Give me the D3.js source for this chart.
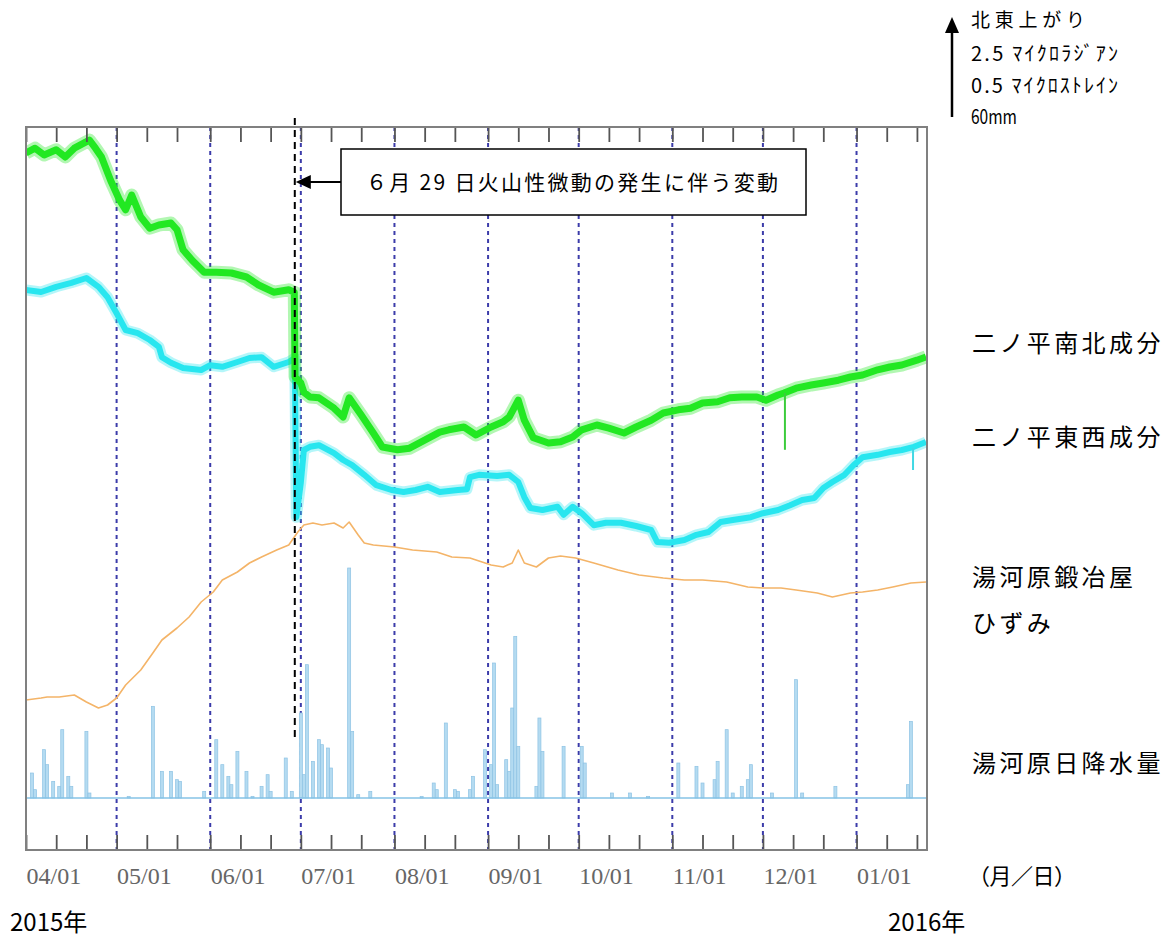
<!DOCTYPE html>
<html>
<head>
<meta charset="utf-8">
<script src="https://cdn.jsdelivr.net/npm/d3@7"></script>
<style>
  body { margin: 0; background: #fff; }
  svg { display: block; }
</style>
</head>
<body>
<svg id="chart" width="1175" height="940"></svg>
<script>
// ---- Data -------------------------------------------------------------
// Ninotaira tiltmeter, north-south component (microradian, north-east up)
const nsTilt = [
  ["2015-04-01", 0.00], ["2015-04-04", 0.12], ["2015-04-07", -0.05], ["2015-04-11", 0.08],
  ["2015-04-14", -0.10], ["2015-04-17", 0.12], ["2015-04-22", 0.32], ["2015-04-24", 0.12],
  ["2015-04-26", -0.10], ["2015-04-29", -0.68], ["2015-05-02", -1.18], ["2015-05-04", -1.42],
  ["2015-05-06", -1.05], ["2015-05-09", -1.60], ["2015-05-12", -1.88], ["2015-05-15", -1.80],
  ["2015-05-19", -1.75], ["2015-05-21", -1.92], ["2015-05-23", -2.42], ["2015-05-26", -2.68],
  ["2015-05-30", -2.98], ["2015-06-03", -2.98], ["2015-06-08", -3.00], ["2015-06-13", -3.10],
  ["2015-06-17", -3.30], ["2015-06-22", -3.48], ["2015-06-27", -3.42], ["2015-06-28 20:00", -3.48],
  ["2015-06-29 02:00", -5.60], ["2015-07-01", -5.75], ["2015-07-02", -5.98], ["2015-07-04", -6.10],
  ["2015-07-07", -6.12], ["2015-07-12", -6.38], ["2015-07-15", -6.60], ["2015-07-17", -6.12],
  ["2015-07-21", -6.55], ["2015-07-25", -7.00], ["2015-07-28", -7.35], ["2015-08-02", -7.42],
  ["2015-08-06", -7.38], ["2015-08-11", -7.18], ["2015-08-16", -6.98], ["2015-08-19", -6.92],
  ["2015-08-24", -6.85], ["2015-08-28", -7.05], ["2015-09-02", -6.85], ["2015-09-06", -6.72],
  ["2015-09-08", -6.60], ["2015-09-11", -6.18], ["2015-09-13", -6.68], ["2015-09-16", -7.12],
  ["2015-09-21", -7.25], ["2015-09-25", -7.22], ["2015-09-29", -7.10], ["2015-10-02", -6.92],
  ["2015-10-07", -6.80], ["2015-10-11", -6.88], ["2015-10-16", -7.00], ["2015-10-20", -6.85],
  ["2015-10-25", -6.68], ["2015-10-29", -6.50], ["2015-11-03", -6.42], ["2015-11-07", -6.38],
  ["2015-11-11", -6.25], ["2015-11-16", -6.22], ["2015-11-20", -6.12], ["2015-11-24", -6.10],
  ["2015-11-29", -6.10], ["2015-12-02", -6.18], ["2015-12-06", -6.05], ["2015-12-08", -6.00],
  ["2015-12-12", -5.88], ["2015-12-17", -5.80], ["2015-12-21", -5.75], ["2015-12-26", -5.68],
  ["2015-12-30", -5.60], ["2016-01-03", -5.55], ["2016-01-08", -5.42], ["2016-01-12", -5.35],
  ["2016-01-16", -5.30], ["2016-01-21", -5.18], ["2016-01-24", -5.10]
];
// short-lived excursions of the north-south record: [time, from, to]
const nsSpikes = [["2015-12-08 07:00", -6.00, -7.42]];

// Ninotaira tiltmeter, east-west component (microradian, north-east up)
const ewTilt = [
  ["2015-04-01", 0.00], ["2015-04-06", -0.05], ["2015-04-11", 0.08], ["2015-04-16", 0.18],
  ["2015-04-21", 0.30], ["2015-04-25", 0.08], ["2015-04-28", -0.18], ["2015-05-01", -0.58],
  ["2015-05-04", -1.00], ["2015-05-08", -1.08], ["2015-05-12", -1.25], ["2015-05-15", -1.42],
  ["2015-05-16", -1.68], ["2015-05-19", -1.82], ["2015-05-23", -1.95], ["2015-05-29", -2.00],
  ["2015-06-01", -1.88], ["2015-06-05", -1.92], ["2015-06-10", -1.80], ["2015-06-14", -1.70],
  ["2015-06-18", -1.68], ["2015-06-22", -1.92], ["2015-06-27", -1.80], ["2015-06-29 00:00", -1.70],
  ["2015-06-29 12:00", -5.68], ["2015-07-01", -4.82], ["2015-07-02", -4.00], ["2015-07-04", -3.92],
  ["2015-07-07", -3.88], ["2015-07-12", -4.08], ["2015-07-15", -4.25], ["2015-07-18", -4.38],
  ["2015-07-22", -4.62], ["2015-07-26", -4.88], ["2015-07-31", -5.00], ["2015-08-04", -5.05],
  ["2015-08-08", -5.00], ["2015-08-12", -4.92], ["2015-08-16", -5.05], ["2015-08-22", -5.00],
  ["2015-08-25", -4.98], ["2015-08-26", -4.68], ["2015-08-29", -4.62], ["2015-09-04", -4.65],
  ["2015-09-08", -4.62], ["2015-09-11", -4.80], ["2015-09-13", -5.18], ["2015-09-15", -5.45],
  ["2015-09-19", -5.50], ["2015-09-24", -5.42], ["2015-09-26", -5.62], ["2015-09-29", -5.42],
  ["2015-10-02", -5.58], ["2015-10-06", -5.88], ["2015-10-10", -5.82], ["2015-10-15", -5.82],
  ["2015-10-20", -5.90], ["2015-10-25", -6.00], ["2015-10-27", -6.30], ["2015-10-31", -6.32],
  ["2015-11-05", -6.25], ["2015-11-09", -6.12], ["2015-11-13", -6.05], ["2015-11-17", -5.80],
  ["2015-11-21", -5.75], ["2015-11-27", -5.68], ["2015-12-01", -5.58], ["2015-12-06", -5.50],
  ["2015-12-10", -5.38], ["2015-12-14", -5.25], ["2015-12-18", -5.20], ["2015-12-21", -4.95],
  ["2015-12-24", -4.80], ["2015-12-28", -4.62], ["2015-12-31", -4.38], ["2016-01-03", -4.18],
  ["2016-01-08", -4.12], ["2016-01-12", -4.05], ["2016-01-16", -4.00], ["2016-01-20", -3.92],
  ["2016-01-24", -3.80]
];
const ewSpikes = [["2016-01-19 17:00", -3.95, -4.50]];

// Yugawara Kajiya strainmeter (microstrain)
const strain = [
  ["2015-04-01", 0.000], ["2015-04-06", 0.010], ["2015-04-08", 0.015], ["2015-04-12", 0.015],
  ["2015-04-17", 0.025], ["2015-04-21", -0.010], ["2015-04-25", -0.040], ["2015-04-28", -0.025],
  ["2015-05-01", 0.010], ["2015-05-04", 0.075], ["2015-05-09", 0.150], ["2015-05-13", 0.235],
  ["2015-05-16", 0.300], ["2015-05-21", 0.360], ["2015-05-25", 0.415], ["2015-05-29", 0.490],
  ["2015-06-02", 0.540], ["2015-06-05", 0.600], ["2015-06-10", 0.640], ["2015-06-14", 0.685],
  ["2015-06-18", 0.715], ["2015-06-23", 0.750], ["2015-06-27", 0.775], ["2015-06-30", 0.840],
  ["2015-07-02", 0.875], ["2015-07-05", 0.885], ["2015-07-08", 0.875], ["2015-07-12", 0.885],
  ["2015-07-15", 0.860], ["2015-07-17", 0.890], ["2015-07-20", 0.825], ["2015-07-22", 0.785],
  ["2015-07-25", 0.775], ["2015-08-01", 0.765], ["2015-08-07", 0.750], ["2015-08-15", 0.740],
  ["2015-08-20", 0.715], ["2015-08-26", 0.710], ["2015-09-02", 0.675], ["2015-09-06", 0.665],
  ["2015-09-09", 0.685], ["2015-09-11", 0.750], ["2015-09-13", 0.685], ["2015-09-17", 0.665],
  ["2015-09-21", 0.710], ["2015-09-25", 0.720], ["2015-09-30", 0.710], ["2015-10-06", 0.685],
  ["2015-10-14", 0.650], ["2015-10-21", 0.625], ["2015-10-29", 0.610], ["2015-11-05", 0.600],
  ["2015-11-11", 0.600], ["2015-11-19", 0.590], ["2015-11-26", 0.565], ["2015-12-01", 0.560],
  ["2015-12-07", 0.560], ["2015-12-12", 0.550], ["2015-12-19", 0.535], ["2015-12-24", 0.515],
  ["2015-12-30", 0.535], ["2016-01-03", 0.540], ["2016-01-08", 0.550], ["2016-01-13", 0.565],
  ["2016-01-19", 0.585], ["2016-01-24", 0.590]
];

// Yugawara daily precipitation (mm)
const rain = [
  ["2015-04-03", 15], ["2015-04-04", 5], ["2015-04-07", 29], ["2015-04-08", 20], ["2015-04-10", 10],
  ["2015-04-12", 7], ["2015-04-13", 41], ["2015-04-15", 13], ["2015-04-16", 7], ["2015-04-21", 40],
  ["2015-04-22", 3], ["2015-05-05", 1], ["2015-05-13", 55], ["2015-05-16", 16], ["2015-05-19", 16],
  ["2015-05-21", 11], ["2015-05-22", 10], ["2015-05-30", 4], ["2015-06-03", 35], ["2015-06-05", 20],
  ["2015-06-07", 13], ["2015-06-08", 8], ["2015-06-10", 28], ["2015-06-13", 16], ["2015-06-15", 1],
  ["2015-06-18", 7], ["2015-06-20", 14], ["2015-06-21", 4], ["2015-06-26", 24], ["2015-06-28", 4],
  ["2015-07-01", 51], ["2015-07-02", 14], ["2015-07-03", 80], ["2015-07-05", 22], ["2015-07-07", 35],
  ["2015-07-08", 32], ["2015-07-10", 30], ["2015-07-11", 18], ["2015-07-17", 138], ["2015-07-18", 40],
  ["2015-07-20", 2], ["2015-07-24", 4], ["2015-08-10", 1], ["2015-08-14", 9], ["2015-08-15", 5],
  ["2015-08-18", 45], ["2015-08-21", 5], ["2015-08-22", 4], ["2015-08-26", 5], ["2015-08-27", 13],
  ["2015-08-31", 29], ["2015-09-02", 20], ["2015-09-03", 81], ["2015-09-04", 8], ["2015-09-07", 23],
  ["2015-09-08", 16], ["2015-09-09", 54], ["2015-09-10", 97], ["2015-09-11", 31], ["2015-09-17", 7],
  ["2015-09-18", 48], ["2015-09-19", 28], ["2015-09-26", 31], ["2015-10-02", 31], ["2015-10-03", 21],
  ["2015-10-12", 3], ["2015-10-18", 3], ["2015-10-24", 1], ["2015-11-03", 21], ["2015-11-09", 19],
  ["2015-11-11", 9], ["2015-11-15", 11], ["2015-11-16", 22], ["2015-11-19", 41], ["2015-11-21", 3],
  ["2015-11-24", 7], ["2015-11-26", 11], ["2015-11-27", 20], ["2015-12-04", 3], ["2015-12-12", 71],
  ["2015-12-14", 3], ["2015-12-25", 7], ["2016-01-18", 8], ["2016-01-19", 46]
];

const period = ["2015-04-01", "2016-01-24 08:00"];
const eventDate = "2015-06-29 00:00";
const minorDays = [1, 11, 21];

const seriesLabels = [
  { text: "二ノ平南北成分", y: 343 },
  { text: "二ノ平東西成分", y: 437 },
  { text: "湯河原鍛冶屋", y: 577 },
  { text: "ひずみ", y: 623 },
  { text: "湯河原日降水量", y: 763 }
];
const scaleNotes = ["北東上がり", "2.5 ﾏｲｸﾛﾗｼﾞｱﾝ", "0.5 ﾏｲｸﾛｽﾄﾚｲﾝ", "60mm"];
const eventNote = "６月 29 日火山性微動の発生に伴う変動";
const axisUnit = "（月／日）";
const years = ["2015年", "2016年"];

// ---- Setup ------------------------------------------------------------
const parseDay = d3.utcParse("%Y-%m-%d");
const parseTime = d3.utcParse("%Y-%m-%d %H:%M");
const parse = s => parseTime(s) || parseDay(s);

const svg = d3.select("#chart");
const plot = { left: 26, top: 127, right: 927, bottom: 850 };
const CJK = "'Noto Sans CJK JP', 'Noto Sans', sans-serif";

const start = parse(period[0]), end = parse(period[1]);
const x = d3.scaleUtc().domain([start, end]).range([plot.left, plot.right]);

// each record has its own vertical scale: the scale-bar length (100 px)
// equals 2.5 microradian, 0.5 microstrain or 60 mm
const yNS = d3.scaleLinear().domain([0, -2.5]).range([153, 253]);
const yEW = d3.scaleLinear().domain([0, -2.5]).range([290, 390]);
const yStrain = d3.scaleLinear().domain([0, 0.5]).range([700, 600]);
const yRain = d3.scaleLinear().domain([0, 60]).range([798, 698]);

svg.append("defs").append("clipPath").attr("id", "plotClip")
  .append("rect")
  .attr("x", plot.left).attr("y", plot.top)
  .attr("width", plot.right - plot.left).attr("height", plot.bottom - plot.top);

// ---- Month grid -------------------------------------------------------
const months = d3.utcMonth.range(start, end);
svg.append("g")
  .selectAll("line")
  .data(months.filter(d => +d !== +start))
  .join("line")
  .attr("x1", d => x(d)).attr("x2", d => x(d))
  .attr("y1", plot.top).attr("y2", plot.bottom)
  .attr("stroke", "#3c3caa")
  .attr("stroke-width", 2)
  .attr("stroke-dasharray", "4,4");

const body = svg.append("g").attr("clip-path", "url(#plotClip)");

// ---- Precipitation ----------------------------------------------------
body.append("g")
  .selectAll("rect")
  .data(rain)
  .join("rect")
  .attr("x", d => x(parse(d[0])) - 1.5)
  .attr("width", d => x(d3.utcDay.offset(parse(d[0]), 1)) - x(parse(d[0])))
  .attr("y", d => yRain(d[1]))
  .attr("height", d => yRain(0) - yRain(d[1]))
  .attr("fill", "#b4dbf1")
  .attr("stroke", "#8ec3e4")
  .attr("stroke-width", 0.7);

body.append("line")
  .attr("x1", plot.left).attr("x2", plot.right)
  .attr("y1", yRain(0)).attr("y2", yRain(0))
  .attr("stroke", "#86c3e6").attr("stroke-width", 1.6);

// ---- Strain and tilt records -----------------------------------------
const lineOf = y => d3.line().x(d => x(parse(d[0]))).y(d => y(d[1]));

body.append("path").datum(strain)
  .attr("d", lineOf(yStrain))
  .attr("fill", "none").attr("stroke", "#f4b468").attr("stroke-width", 1.6)
  .attr("stroke-linejoin", "round");

// tilt records are noisy hourly series: a soft outer band plus a solid core
const band = (data, y, color, outer, inner) => {
  body.append("path").datum(data)
    .attr("d", lineOf(y))
    .attr("fill", "none").attr("stroke", color).attr("stroke-opacity", 0.35)
    .attr("stroke-width", outer).attr("stroke-linejoin", "round");
  body.append("path").datum(data)
    .attr("d", lineOf(y))
    .attr("fill", "none").attr("stroke", color)
    .attr("stroke-width", inner).attr("stroke-linejoin", "round");
};
band(ewTilt, yEW, "#28e6ef", 11, 6);
band(nsTilt, yNS, "#22e822", 13, 7);

const spikes = (data, y, color) => body.append("g")
  .selectAll("line").data(data).join("line")
  .attr("x1", d => x(parse(d[0]))).attr("x2", d => x(parse(d[0])))
  .attr("y1", d => y(d[1])).attr("y2", d => y(d[2]))
  .attr("stroke", color).attr("stroke-width", 2);
spikes(nsSpikes, yNS, "#3ccc3c");
spikes(ewSpikes, yEW, "#40d8e4");

// ---- Ticks and frame --------------------------------------------------
const minor = d3.utcDay.range(start, end).filter(d => minorDays.includes(d.getUTCDate()));

const tickStyle = g => {
  g.select(".domain").remove();
  g.selectAll(".tick line").attr("stroke", "#555").attr("stroke-width", 1.8);
  g.selectAll(".tick text").remove();
};
svg.append("g").attr("transform", `translate(0,${plot.top})`)
  .call(d3.axisBottom(x).tickValues(minor).tickSize(15).tickFormat(""))
  .call(tickStyle);
svg.append("g").attr("transform", `translate(0,${plot.bottom})`)
  .call(d3.axisTop(x).tickValues(minor).tickSize(15).tickFormat(""))
  .call(tickStyle);

svg.append("rect")
  .attr("x", plot.left).attr("y", plot.top)
  .attr("width", plot.right - plot.left).attr("height", plot.bottom - plot.top)
  .attr("fill", "none").attr("stroke", "#808080").attr("stroke-width", 2);

// month labels, left-aligned on each month tick
const monthAxis = svg.append("g").attr("transform", `translate(0,${plot.bottom})`)
  .call(d3.axisBottom(x).tickValues(months).tickSize(0).tickPadding(0)
    .tickFormat(d3.utcFormat("%m/%d")));
monthAxis.select(".domain").remove();
monthAxis.selectAll(".tick text")
  .attr("text-anchor", "start")
  .attr("dy", null)
  .attr("y", 34)
  .attr("font-family", "'Liberation Serif', serif")
  .attr("font-size", 24)
  .attr("fill", "#666");

// ---- Event marker -----------------------------------------------------
const ex = x(parse(eventDate));
svg.append("line")
  .attr("x1", ex).attr("x2", ex).attr("y1", 118).attr("y2", 742)
  .attr("stroke", "#000").attr("stroke-width", 2).attr("stroke-dasharray", "7,5");

const box = { x: 341, y: 149, w: 465, h: 66 };
svg.append("rect")
  .attr("x", box.x).attr("y", box.y).attr("width", box.w).attr("height", box.h)
  .attr("fill", "#fff").attr("stroke", "#000").attr("stroke-width", 1.5);
svg.append("text")
  .attr("x", box.x + 25).attr("y", box.y + box.h / 2 + 8)
  .attr("font-family", CJK).attr("font-size", 21)
  .attr("textLength", 412).attr("lengthAdjust", "spacing")
  .text(eventNote);
const ay = box.y + box.h / 2;
svg.append("line")
  .attr("x1", box.x).attr("x2", ex + 12).attr("y1", ay).attr("y2", ay)
  .attr("stroke", "#000").attr("stroke-width", 1.8);
svg.append("path")
  .attr("d", `M${ex + 1},${ay} L${ex + 16},${ay - 7} L${ex + 16},${ay + 7} Z`)
  .attr("fill", "#000");

// ---- Scale bar --------------------------------------------------------
const sbx = 952;
svg.append("line")
  .attr("x1", sbx).attr("x2", sbx).attr("y1", 117).attr("y2", 30)
  .attr("stroke", "#000").attr("stroke-width", 2.5);
svg.append("path")
  .attr("d", `M${sbx},17 L${sbx - 7},33 L${sbx + 7},33 Z`)
  .attr("fill", "#000");

const noteY = [27, 61, 93, 124];
const noteW = [114, 147, 147, 46];
const noteSize = [19, 20, 20, 20];
svg.append("g")
  .selectAll("text").data(scaleNotes).join("text")
  .attr("x", 971)
  .attr("y", (d, i) => noteY[i])
  .attr("font-family", CJK)
  .attr("font-size", (d, i) => noteSize[i])
  .attr("textLength", (d, i) => noteW[i])
  .attr("lengthAdjust", (d, i) => i === 3 ? "spacingAndGlyphs" : "spacing")
  .text(d => d);

// ---- Record names -----------------------------------------------------
svg.append("g")
  .selectAll("text").data(seriesLabels).join("text")
  .attr("x", 972).attr("y", d => d.y + 9)
  .attr("font-family", CJK).attr("font-size", 24)
  .attr("letter-spacing", 3.4)
  .text(d => d.text);

svg.append("text")
  .attr("x", 968).attr("y", 884)
  .attr("font-family", CJK).attr("font-size", 22)
  .attr("textLength", 108).attr("lengthAdjust", "spacing")
  .text(axisUnit);

svg.append("text").attr("x", 10).attr("y", 931)
  .attr("font-family", CJK).attr("font-size", 24).text(years[0]);
svg.append("text").attr("x", 888).attr("y", 931)
  .attr("font-family", CJK).attr("font-size", 24).text(years[1]);
</script>
</body>
</html>
